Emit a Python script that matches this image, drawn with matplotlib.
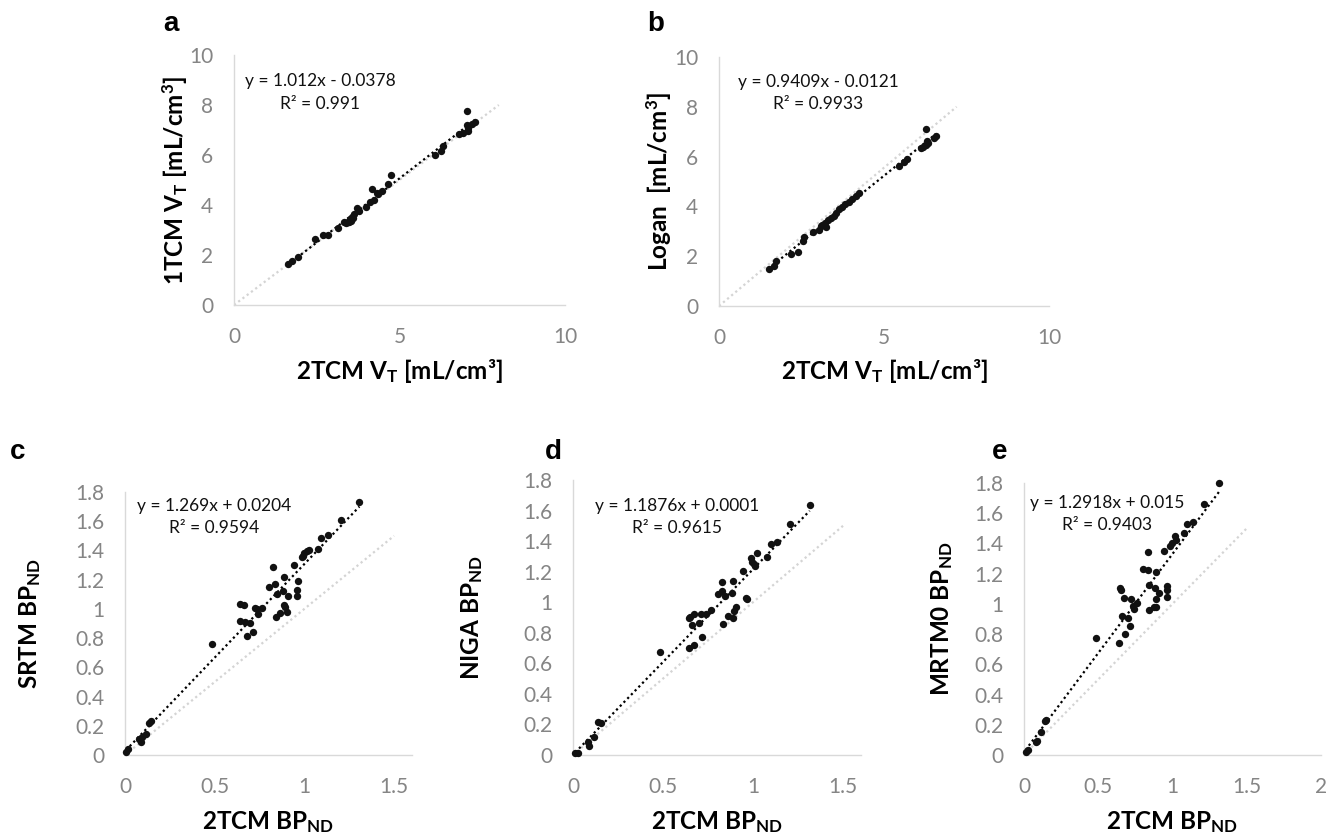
import numpy as np
import matplotlib
matplotlib.use("Agg")
from matplotlib import pyplot as plt
from matplotlib.ticker import FuncFormatter

plt.rcParams['font.family'] = ['Lato', 'DejaVu Sans']
plt.rcParams['mathtext.fontset'] = 'custom'
plt.rcParams['mathtext.rm'] = 'Lato:bold'
plt.rcParams['mathtext.it'] = 'Lato:bold'
plt.rcParams['mathtext.bf'] = 'Lato:bold'
plt.rcParams['mathtext.default'] = 'regular'

# ---- data ----
# a: 2TCM VT vs 1TCM VT
a_x = [7.03, 7.28, 7.20, 7.03, 7.06, 6.92, 6.79, 7.08, 6.31, 6.24, 6.08, 4.74, 4.64,
       4.18, 4.46, 4.36, 4.31, 4.23, 4.10, 3.98, 3.72, 3.79, 3.64, 3.57, 3.49, 3.44,
       3.38, 3.54, 3.61, 3.47, 3.33, 3.15, 2.85, 2.70, 2.46, 1.93, 1.74, 1.64]
a_y = [7.76, 7.33, 7.25, 7.22, 6.98, 6.88, 6.86, 7.09, 6.38, 6.17, 6.01, 5.20, 4.86,
       4.63, 4.56, 4.45, 4.48, 4.22, 4.14, 3.94, 3.89, 3.75, 3.64, 3.54, 3.44, 3.33,
       3.27, 3.37, 3.47, 3.31, 3.33, 3.08, 2.81, 2.81, 2.66, 1.92, 1.75, 1.65]

# b: 2TCM VT vs Logan (x positions as they sit on panel b's own axis)
b_x = [6.26, 6.57, 6.50, 6.31, 6.34, 6.26, 6.17, 6.11, 5.71, 5.61, 5.45, 4.24, 4.14,
       4.04, 3.94, 3.83, 3.74, 3.64, 3.54, 3.48, 3.38, 3.29, 3.20, 3.13, 3.08, 3.23,
       3.03, 2.86, 2.57, 2.56, 2.38, 2.17, 1.72, 1.67, 1.51]
b_y = [7.12, 6.83, 6.73, 6.63, 6.53, 6.46, 6.39, 6.33, 5.89, 5.78, 5.61, 4.53, 4.42,
       4.31, 4.19, 4.08, 3.99, 3.88, 3.74, 3.61, 3.54, 3.44, 3.33, 3.27, 3.20, 3.17,
       3.06, 2.97, 2.76, 2.63, 2.18, 2.08, 1.81, 1.61, 1.47]

# c: 2TCM BPND vs SRTM BPND
c_x = [1.307, 1.204, 1.134, 1.093, 1.078, 1.028, 1.013, 1.000, 0.991, 0.985, 0.944,
       0.827, 0.887, 0.967, 0.805, 0.836, 0.846, 0.879, 0.961, 0.907, 0.957, 0.641,
       0.665, 0.725, 0.734, 0.766, 0.740, 0.887, 0.892, 0.842, 0.864, 0.901, 0.641,
       0.669, 0.697, 0.716, 0.678, 0.487, 0.145, 0.136, 0.115, 0.093, 0.080, 0.087,
       0.019, 0.006]
c_y = [1.731, 1.610, 1.507, 1.484, 1.411, 1.400, 1.393, 1.381, 1.363, 1.354, 1.301,
       1.290, 1.215, 1.192, 1.153, 1.171, 1.100, 1.123, 1.126, 1.085, 1.085, 1.034,
       1.027, 1.005, 0.998, 1.009, 0.966, 1.027, 1.016, 0.943, 0.975, 0.982, 0.920,
       0.913, 0.902, 0.845, 0.815, 0.760, 0.235, 0.221, 0.142, 0.126, 0.107, 0.091,
       0.039, 0.023]

# d: 2TCM BPND vs NIGA BPND
d_x = [1.315, 1.205, 1.131, 1.101, 1.076, 1.024, 0.987, 0.996, 1.006, 1.011, 0.946,
       0.830, 0.889, 0.803, 0.830, 0.843, 0.882, 0.959, 0.965, 0.766, 0.738, 0.710,
       0.670, 0.651, 0.642, 0.661, 0.701, 0.716, 0.642, 0.673, 0.908, 0.895, 0.891,
       0.862, 0.836, 0.483, 0.138, 0.153, 0.116, 0.083, 0.089, 0.028, 0.013]
d_y = [1.638, 1.513, 1.397, 1.382, 1.295, 1.321, 1.288, 1.266, 1.251, 1.240, 1.207,
       1.131, 1.140, 1.055, 1.076, 1.044, 1.059, 1.026, 1.020, 0.950, 0.924, 0.924,
       0.924, 0.906, 0.895, 0.852, 0.862, 0.775, 0.703, 0.721, 0.972, 0.945, 0.895,
       0.913, 0.858, 0.677, 0.218, 0.207, 0.120, 0.087, 0.059, 0.015, 0.011]

# e: 2TCM BPND vs MRTM0 BPND
e_x = [1.313, 1.212, 1.138, 1.100, 1.077, 1.015, 1.026, 0.999, 0.985, 0.943, 0.835,
       0.801, 0.835, 0.887, 0.842, 0.880, 0.963, 0.963, 0.907, 0.891, 0.965, 0.649,
       0.655, 0.671, 0.718, 0.761, 0.734, 0.741, 0.875, 0.891, 0.842, 0.662, 0.700,
       0.716, 0.678, 0.640, 0.483, 0.150, 0.139, 0.112, 0.090, 0.083, 0.027, 0.011]
e_y = [1.799, 1.660, 1.545, 1.530, 1.468, 1.450, 1.424, 1.402, 1.384, 1.351, 1.342,
       1.230, 1.221, 1.214, 1.126, 1.104, 1.119, 1.093, 1.075, 1.031, 1.044, 1.108,
       1.093, 1.038, 1.031, 1.009, 0.989, 0.967, 0.982, 0.982, 0.960, 0.920, 0.905,
       0.854, 0.799, 0.744, 0.773, 0.232, 0.227, 0.150, 0.093, 0.084, 0.033, 0.018]

# regression text printed on each panel (slope, intercept, R2)
fits = {
    'a': ('1.012', '- 0.0378', '0.991'),
    'b': ('0.9409', '- 0.0121', '0.9933'),
    'c': ('1.269', '+ 0.0204', '0.9594'),
    'd': ('1.1876', '+ 0.0001', '0.9615'),
    'e': ('1.2918', '+ 0.015', '0.9403'),
}
# end point of the grey reference line in each panel
ref_end = {'a': (8, 8), 'b': (7.2, 8), 'c': (1.5, 1.5), 'd': (1.5, 1.5), 'e': (1.5, 1.5)}

W, H = 1338, 839
fig = plt.figure(figsize=(W / 100, H / 100), dpi=100)

def add_box(l, r, b, t):
    return fig.add_axes([l / W, 1 - b / H, (r - l) / W, (b - t) / H])

def panel(ax, x, y, key, xlim, ylim, xticks, yticks, eq_pos, xlabel, ylabel):
    slope, icpt, r2 = fits[key]
    ex, ey = ref_end[key]
    ax.plot([0, ex], [0, ey], ls=(0, (1, 1.4)), lw=1.6, c='#d4d4d4', zorder=1)
    k, m = np.polyfit(x, y, 1)
    xs = np.array([min(x), max(x)])
    ax.plot(xs, k * xs + m, ls=(0, (1, 1.4)), lw=1.6, c='black', zorder=2)
    ax.scatter(x, y, s=28, c='#111111', lw=0, zorder=3, clip_on=False)
    ax.set_xlim(*xlim)
    ax.set_ylim(*ylim)
    ax.set_xticks(xticks)
    ax.set_yticks(yticks)
    fmt = FuncFormatter(lambda v, p: f'{v:g}')
    ax.xaxis.set_major_formatter(fmt)
    ax.yaxis.set_major_formatter(fmt)
    for s in ['top', 'right']:
        ax.spines[s].set_visible(False)
    for s in ['left', 'bottom']:
        ax.spines[s].set_color('#d9d9d9')
        ax.spines[s].set_linewidth(1.0)
    ax.tick_params(axis='both', length=0, labelsize=15, labelcolor='#858585')
    ax.tick_params(axis='y', pad=15)
    ax.tick_params(axis='x', pad=16)
    ax.text(eq_pos[0], eq_pos[1], f'y = {slope}x {icpt}\nR\u00b2 = {r2}',
            transform=ax.transAxes, ha='center', va='center', multialignment='center',
            fontsize=12.5, linespacing=1.5, color='#111111')
    ax.set_xlabel(xlabel, fontsize=17.5, fontweight='bold', va='center')
    ax.set_ylabel(ylabel, fontsize=17.5, fontweight='bold', va='center')
    return ax

# top row
ax_a = add_box(234, 565, 305, 55)
panel(ax_a, a_x, a_y, 'a', (0, 10), (0, 10), [0, 5, 10], [0, 2, 4, 6, 8, 10],
      (0.26, 0.85), r'2TCM V$_{T}$ [mL/cm³]', r'1TCM V$_{T}$ [mL/cm$^{3}$]')
ax_a.xaxis.set_label_coords(0.5, -(371 - 305) / 250)
ax_a.yaxis.set_label_coords(-(234 - 175) / 331, 0.5)

ax_b = add_box(719, 1049, 306, 57)
panel(ax_b, b_x, b_y, 'b', (0, 10), (0, 10), [0, 5, 10], [0, 2, 4, 6, 8, 10],
      (0.30, 0.855), r'2TCM V$_{T}$ [mL/cm³]', r'Logan  [mL/cm$^{3}$]')
ax_b.xaxis.set_label_coords(0.5, -(371 - 306) / 249)
ax_b.yaxis.set_label_coords(-(719 - 659) / 330, 0.5)

# bottom row
bp = r'2TCM BP$_{ND}$'
yt = np.round(np.arange(0, 1.81, 0.2), 1)
ax_c = add_box(125, 412, 755, 492)
panel(ax_c, c_x, c_y, 'c', (0, 1.6), (0, 1.8), [0, 0.5, 1, 1.5], yt,
      (0.31, 0.905), bp, r'SRTM BP$_{ND}$')
ax_c.xaxis.set_label_coords(0.5, -(822 - 755) / 263)
ax_c.yaxis.set_label_coords(-(125 - 30) / 287, 0.5)

ax_d = add_box(573, 861, 755, 480)
panel(ax_d, d_x, d_y, 'd', (0, 1.6), (0, 1.8), [0, 0.5, 1, 1.5], yt,
      (0.36, 0.865), bp, r'NIGA BP$_{ND}$')
ax_d.xaxis.set_label_coords(0.5, -(822 - 755) / 275)
ax_d.yaxis.set_label_coords(-(573 - 472) / 288, 0.5)

ax_e = add_box(1024, 1321, 755, 483)
panel(ax_e, e_x, e_y, 'e', (0, 2), (0, 1.8), [0, 0.5, 1, 1.5, 2], yt,
      (0.28, 0.886), bp, r'MRTM0 BP$_{ND}$')
ax_e.xaxis.set_label_coords(0.5, -(822 - 755) / 272)
ax_e.yaxis.set_label_coords(-(1024 - 942) / 297, 0.5)

# panel letters
for lab, px, py in [('a', 163, 24), ('b', 647, 24), ('c', 10, 452), ('d', 545, 452), ('e', 992, 452)]:
    fig.text(px / W, 1 - py / H, lab, fontsize=20, fontweight='bold',
             family=['Liberation Sans', 'DejaVu Sans'], ha='left', va='center')

fig.savefig('out.png', dpi=100, facecolor='white')
